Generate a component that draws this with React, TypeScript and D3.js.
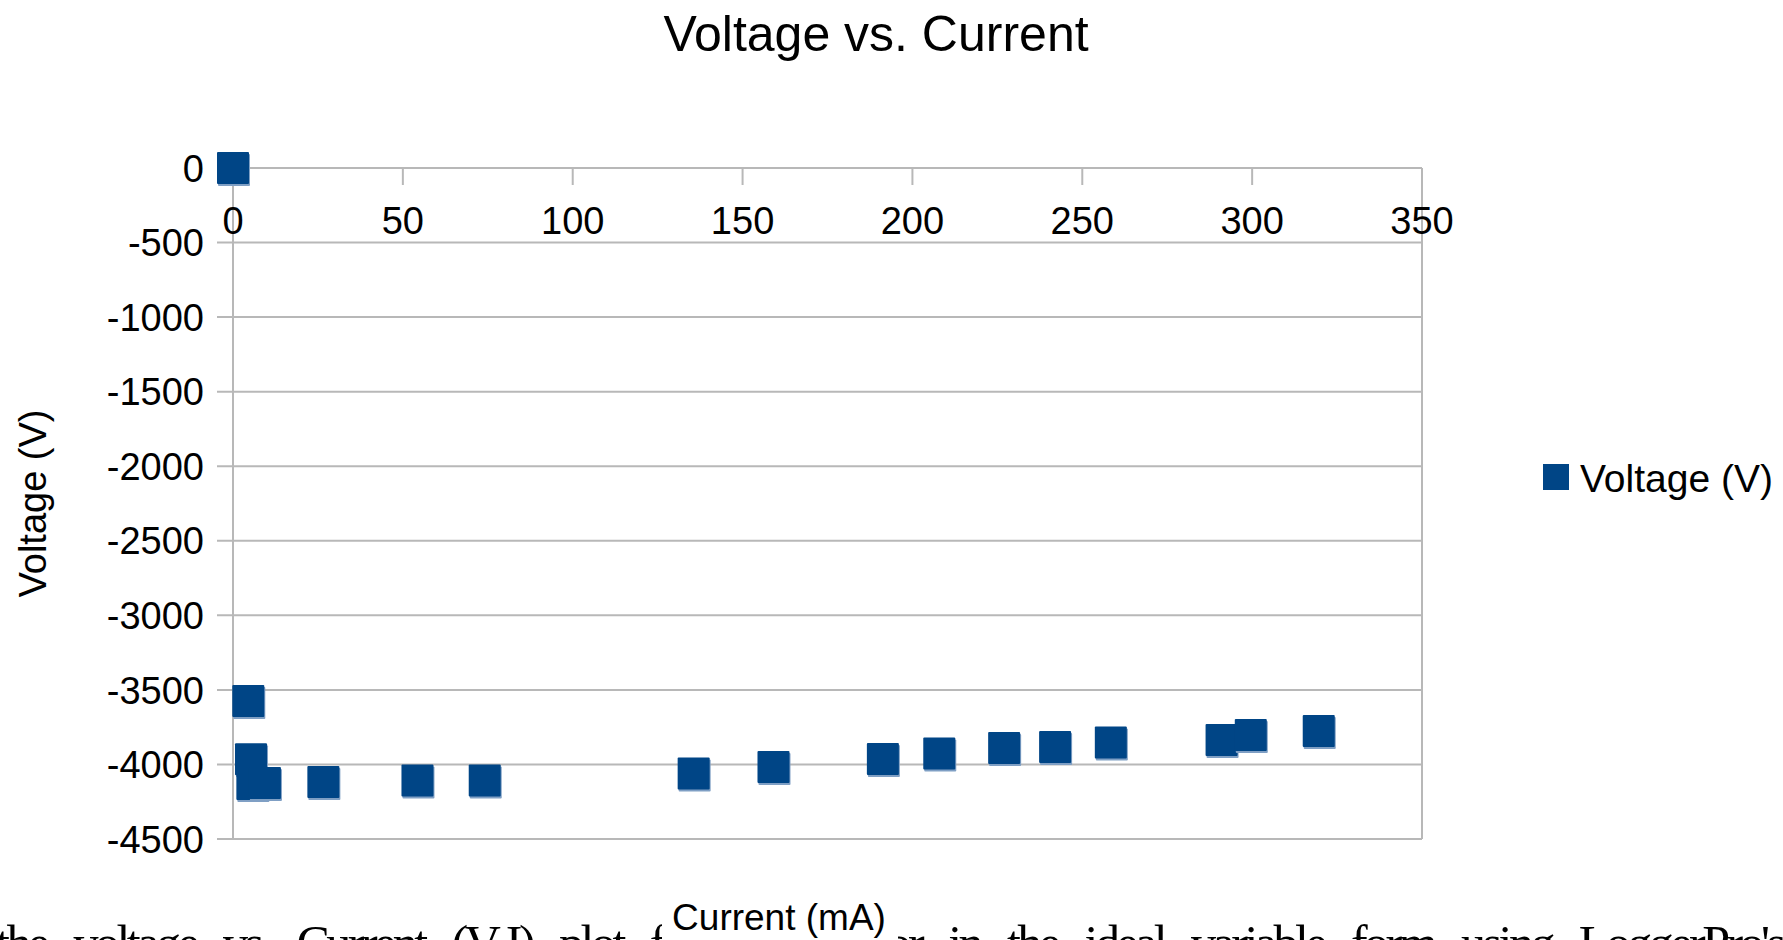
import React from "react";
import * as d3 from "d3";

const currentMA = [0, 4.5, 5.3, 5.7, 9.4, 26.6, 54.3, 74.1, 135.6, 159.1, 191.3, 207.9, 227, 242, 258.4, 291, 299.6, 319.6];
const voltageV = [0, -3575, -3965, -4131, -4125, -4118, -4108, -4108, -4061, -4017, -3964, -3927, -3890, -3883, -3853, -3836, -3803, -3776];
const xTicks = [0, 50, 100, 150, 200, 250, 300, 350];
const yTicks = [0, -500, -1000, -1500, -2000, -2500, -3000, -3500, -4000, -4500];

const W = 1783;
const H = 940;
const FONT = "'Liberation Sans', Arial, sans-serif";
const BLUE = "#004586";
const GRID = "#b8b8b8";

export default function App() {
  const x = d3.scaleLinear().domain([0, 350]).range([233, 1422]);
  const y = d3.scaleLinear().domain([-4500, 0]).range([839, 168]);
  const pts = currentMA.map((c, i) => ({ c, v: voltageV[i] }));
  const m = 32;
  return (
    <svg
      width={W}
      height={H}
      viewBox={`0 0 ${W} ${H}`}
      style={{ position: "absolute", left: 0, top: 0, display: "block", background: "#fff" }}
    >
      <rect x={0} y={0} width={W} height={H} fill="#fff" />
      {/* partially visible body text below the chart */}
      <text
        x={-4}
        y={960}
        fontFamily="'Liberation Serif', 'Times New Roman', serif"
        fontSize={50}
        fill="#000"
        textLength={1790}
        lengthAdjust="spacing"
        wordSpacing={18}
      >
        the voltage vs. Current (V-I) plot for the resistor in the ideal variable form using LoggerPro's
      </text>
      <rect x={662} y={900} width={236} height={40} fill="#fff" />
      <text x={876} y={51} textAnchor="middle" fontFamily={FONT} fontSize={50} fill="#000">
        Voltage vs. Current
      </text>
      {/* horizontal gridlines and y ticks */}
      {yTicks.map((t) => (
        <g key={"y" + t}>
          <line x1={217} x2={x(350)} y1={y(t)} y2={y(t)} stroke={GRID} strokeWidth={2} />
          <text x={204} y={y(t)} dy="0.36em" textAnchor="end" fontFamily={FONT} fontSize={38} fill="#000">
            {t}
          </text>
        </g>
      ))}
      {/* y axis line */}
      <line x1={x(0)} x2={x(0)} y1={y(0)} y2={y(-4500)} stroke={GRID} strokeWidth={2} />
      {/* right border */}
      <line x1={x(350)} x2={x(350)} y1={y(0)} y2={y(-4500)} stroke={GRID} strokeWidth={2} />
      {/* x ticks */}
      {xTicks.map((t) => (
        <g key={"x" + t}>
          <line x1={x(t)} x2={x(t)} y1={y(0)} y2={y(0) + 17} stroke={GRID} strokeWidth={2} />
          <text x={x(t)} y={234} textAnchor="middle" fontFamily={FONT} fontSize={38} fill="#000">
            {t}
          </text>
        </g>
      ))}
      {/* points */}
      {pts.map((p, i) => (
        <g key={"p" + i}>
          <rect x={x(p.c) - m / 2 + 1} y={y(p.v) - m / 2 + 2} width={m} height={m} fill="#7f9fc4" rx={1} />
          <rect x={x(p.c) - m / 2} y={y(p.v) - m / 2} width={m} height={m} fill={BLUE} rx={1} />
        </g>
      ))}
      {/* axis titles */}
      <text
        transform={`translate(46,${(y(0) + y(-4500)) / 2}) rotate(-90)`}
        textAnchor="middle"
        fontFamily={FONT}
        fontSize={38}
        fill="#000"
      >
        Voltage (V)
      </text>
      <text x={779} y={930} textAnchor="middle" fontFamily={FONT} fontSize={37} fill="#000">
        Current (mA)
      </text>
      {/* legend */}
      <rect x={1543} y={464} width={26} height={26} fill={BLUE} />
      <text x={1580} y={492} fontFamily={FONT} fontSize={39} fill="#000">
        Voltage (V)
      </text>
    </svg>
  );
}
